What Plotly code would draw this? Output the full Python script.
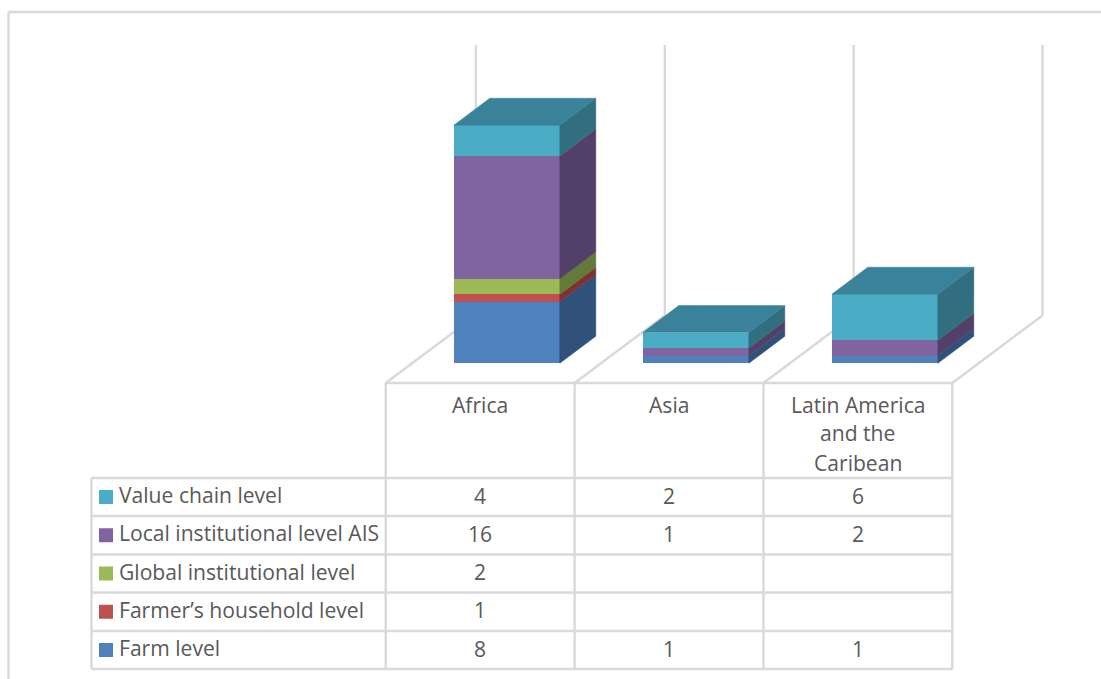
import plotly.graph_objects as go

# Chart data
categories = ["Africa", "Asia", "Latin America and the Caribean"]
category_lines = [["Africa"], ["Asia"], ["Latin America", "and the", "Caribean"]]
farm_level = [8, 1, 1]
household_level = [1, None, None]
global_level = [2, None, None]
local_level = [16, 1, 2]
value_chain_level = [4, 2, 6]

series = [
    ("Farm level", farm_level, "#4F81BD", "#30527A"),
    ("Farmer’s household level", household_level, "#C0504D", "#7C3331"),
    ("Global institutional level", global_level, "#9BBB59", "#647A39"),
    ("Local institutional level AIS", local_level, "#8064A2", "#534068"),
    ("Value chain level", value_chain_level, "#4BACC6", "#316F80"),
]
TOP_COLOR = "#39829A"

# Canvas and oblique projection
W, H = 1101, 679
FONT = "Open Sans"
FONT_SIZE = 21.1
TEXT = "#595959"
GRID = "#D9D9D9"
CAT_PX = 189.0
UNIT_PX = 7.68
ORIGIN_X, ORIGIN_Y = 506.8, 363.3
BAR_PX = 106.0
DX = 36.0 / CAT_PX
DY = 27.0 / UNIT_PX
HALF = BAR_PX / CAT_PX / 2

fig = go.Figure()

# Side and top faces of each stacked column
for i in range(len(categories)):
    base = 0
    for name, values, front, side in series:
        v = values[i] or 0
        if v:
            x0 = i + HALF
            fig.add_trace(go.Scatter(
                x=[x0, x0 + DX, x0 + DX, x0, x0],
                y=[base, base + DY, base + v + DY, base + v, base],
                mode="lines", fill="toself", fillcolor=side,
                line=dict(color=side, width=0.5), hoverinfo="skip", showlegend=False,
            ))
        base += v
    fig.add_trace(go.Scatter(
        x=[i - HALF, i - HALF + DX, i + HALF + DX, i + HALF, i - HALF],
        y=[base, base + DY, base + DY, base, base],
        mode="lines", fill="toself", fillcolor=TOP_COLOR,
        line=dict(color=TOP_COLOR, width=0.5), hoverinfo="skip", showlegend=False,
    ))

# Front faces
for name, values, front, side in series:
    fig.add_trace(go.Bar(
        x=list(range(len(categories))), y=[v or 0 for v in values], name=name,
        width=BAR_PX / CAT_PX, marker=dict(color=front, line=dict(width=0)),
        showlegend=False, hovertemplate="%{y}<extra>" + name + "</extra>",
    ))


def px_line(x0, y0, x1, y1):
    return dict(type="line", xref="paper", yref="paper", layer="below",
                x0=x0 / W, x1=x1 / W, y0=1 - y0 / H, y1=1 - y1 / H,
                line=dict(color=GRID, width=2.4))


# Outer frame, walls, floor and table rules
col_x = [385.7, 574.6, 763.5, 952.3]
row_y = [478, 516, 554.5, 592.5, 631, 669]
wall_dx, wall_dy = 90.2, 67.5
shapes = [px_line(8.5, 12, W, 12), px_line(8.5, 12, 8.5, H)]
for x in col_x:
    shapes.append(px_line(x, 383, x + wall_dx, 383 - wall_dy))
    shapes.append(px_line(x + wall_dx, 383 - wall_dy, x + wall_dx, 45))
    shapes.append(px_line(x, 383, x, 669))
shapes.append(px_line(385.7, 383, 952.3, 383))
for y in row_y:
    shapes.append(px_line(91.5, y, 952.3, y))
shapes.append(px_line(91.5, 478, 91.5, 669))

annotations = []


def label(x, y, text, anchor="center"):
    annotations.append(dict(
        xref="paper", yref="paper", x=x / W, y=1 - y / H, text=text, showarrow=False,
        xanchor=anchor, yanchor="middle", font=dict(family=FONT, size=FONT_SIZE, color=TEXT),
    ))


# Category header cells
for i, lines in enumerate(category_lines):
    cx = (col_x[i] + col_x[i + 1]) / 2
    for j, line in enumerate(lines):
        label(cx, 404 + 29 * j, line)

# Legend keys and value rows, top row last in the stack
for r, (name, values, front, side) in enumerate(reversed(series)):
    cy = (row_y[r] + row_y[r + 1]) / 2
    shapes.append(dict(type="rect", xref="paper", yref="paper",
                       x0=99 / W, x1=113 / W, y0=1 - (cy - 7) / H, y1=1 - (cy + 7) / H,
                       fillcolor=front, line=dict(width=0)))
    label(116.5, cy - 2.5, name, "left")
    for i, v in enumerate(values):
        if v is not None:
            label((col_x[i] + col_x[i + 1]) / 2, cy - 2, str(v))

fig.update_layout(
    width=W, height=H, margin=dict(l=0, r=0, t=0, b=0),
    paper_bgcolor="white", plot_bgcolor="rgba(0,0,0,0)", barmode="stack",
    xaxis=dict(visible=False, range=[-ORIGIN_X / CAT_PX, (W - ORIGIN_X) / CAT_PX]),
    yaxis=dict(visible=False, range=[(ORIGIN_Y - H) / UNIT_PX, ORIGIN_Y / UNIT_PX]),
    shapes=shapes, annotations=annotations, showlegend=False,
)
fig.write_html("out.html", config=dict(displayModeBar=False))
